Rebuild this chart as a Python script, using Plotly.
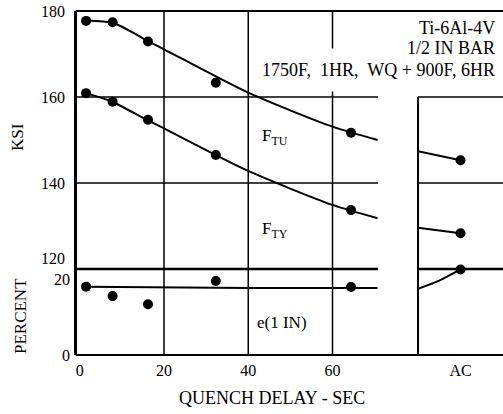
import plotly.graph_objects as go

# test points, quench delay in seconds
delay = [1.5, 7.8, 16.2, 32.3, 64.4]
ftu = [177.7, 177.4, 172.9, 163.3, 151.7]
fty = [160.9, 158.9, 154.7, 146.5, 133.7]
elong = [15.9, 13.7, 11.8, 17.2, 15.8]

# faired curves
ftu_fit_x = [1.5, 8, 16.4, 20, 40, 60, 70.7]
ftu_fit = [177.8, 177.2, 172.9, 171.1, 161.0, 153.1, 150.0]
fty_fit_x = [1.5, 7.7, 15.9, 20, 40, 60, 70.7]
fty_fit = [160.9, 158.9, 154.7, 152.7, 142.8, 134.9, 131.8]
elong_fit_x = [1.5, 40, 70.7]
elong_fit = [15.9, 15.6, 15.6]

# air cooled panel
ac_pos = [1]
ac_label = ["AC"]
ac_ftu = [145.3]
ac_fty = [128.3]
ac_elong = [19.9]
ac_line_x = [0, 1]
ac_ftu_fit = [147.4, 145.3]
ac_fty_fit = [129.6, 128.3]
ac_elong_x = [0, 0.5, 1]
ac_elong_fit = [15.4, 17.3, 19.9]

FONT = "Liberation Serif"
BLACK = "black"

fig = go.Figure()


def curve(x, y, xa, ya):
    fig.add_trace(go.Scatter(x=x, y=y, xaxis=xa, yaxis=ya, mode="lines",
                             line=dict(color=BLACK, width=2, shape="spline", smoothing=0.7),
                             hoverinfo="skip", showlegend=False))


def dots(x, y, xa, ya):
    fig.add_trace(go.Scatter(x=x, y=y, xaxis=xa, yaxis=ya, mode="markers",
                             marker=dict(color=BLACK, size=10),
                             showlegend=False))


curve(ftu_fit_x, ftu_fit, "x", "y")
curve(fty_fit_x, fty_fit, "x", "y")
curve(elong_fit_x, elong_fit, "x", "y2")
dots(delay, ftu, "x", "y")
dots(delay, fty, "x", "y")
dots(delay, elong, "x", "y2")

curve(ac_line_x, ac_ftu_fit, "x2", "y3")
curve(ac_line_x, ac_fty_fit, "x2", "y3")
curve(ac_elong_x, ac_elong_fit, "x2", "y4")
dots(ac_pos, ac_ftu, "x2", "y3")
dots(ac_pos, ac_fty, "x2", "y3")
dots(ac_pos, ac_elong, "x2", "y4")

tick_font = dict(family=FONT, size=16, color=BLACK)

fig.update_layout(
    width=503, height=414,
    margin=dict(l=77, r=0, t=11, b=59),
    paper_bgcolor="white", plot_bgcolor="white",
    font=dict(family=FONT, size=16, color=BLACK),
    xaxis=dict(domain=[0, 0.7066], range=[-0.65, 70.8], tickvals=[0, 20, 40, 60],
               showgrid=False, zeroline=False, showline=False, ticks="",
               ticklabelstandoff=4, tickfont=tick_font, anchor="y"),
    xaxis2=dict(domain=[0.8005, 1], range=[0, 2], tickvals=ac_pos, ticktext=ac_label,
                showgrid=False, zeroline=False, showline=False, ticks="",
                ticklabelstandoff=4, tickfont=tick_font, anchor="y3"),
    # KSI scale
    yaxis=dict(range=[100, 180], tickvals=[120, 140, 160, 180],
               ticktext=["120<br> ", "140", "160", "180"],
               showgrid=False, zeroline=False, showline=True, linecolor=BLACK,
               linewidth=2.5, ticks="", ticklabelstandoff=6, tickfont=tick_font,
               anchor="x"),
    # PERCENT scale
    yaxis2=dict(range=[0, 80], tickvals=[0, 20], ticktext=["0", " <br>20"],
                overlaying="y", side="left", anchor="x", showgrid=False,
                zeroline=False, showline=False, ticks="", ticklabelstandoff=6,
                tickfont=tick_font),
    yaxis3=dict(range=[100, 180], anchor="x2", visible=False),
    yaxis4=dict(range=[0, 80], anchor="x2", overlaying="y3", visible=False),
)

# frame lines
for yv in [0, 1]:
    fig.add_shape(type="line", xref="paper", yref="paper", x0=-0.003, x1=1,
                  y0=yv, y1=yv, line=dict(color=BLACK, width=2))
fig.add_shape(type="line", xref="x2 domain", yref="y3", x0=0, x1=0, y0=100, y1=160,
              line=dict(color=BLACK, width=2))

# grid
for xv in [20, 40, 60]:
    fig.add_shape(type="line", xref="x", yref="y domain", x0=xv, x1=xv, y0=0, y1=1,
                  line=dict(color=BLACK, width=1.5))
for xr, yr in [("x domain", "y"), ("x2 domain", "y3")]:
    for yv in [140, 160]:
        fig.add_shape(type="line", xref=xr, yref=yr, x0=0, x1=1, y0=yv, y1=yv,
                      line=dict(color=BLACK, width=1.5))
    fig.add_shape(type="line", xref=xr, yref=yr, x0=0, x1=1, y0=120, y1=120,
                  line=dict(color=BLACK, width=2.5))

ann = dict(showarrow=False, font=dict(family=FONT, size=17, color=BLACK))
big = dict(showarrow=False, font=dict(family=FONT, size=18, color=BLACK))
# white box first so the lines above it stay readable
fig.add_annotation(text="1750F,  1HR,  WQ + 900F, 6HR", xref="paper", yref="paper",
                   x=0.986, y=0.8285, xanchor="right", yanchor="middle",
                   bgcolor="white", height=40, **big)
fig.add_annotation(text="Ti-6Al-4V", xref="paper", yref="paper", x=0.986, y=0.9506,
                   xanchor="right", yanchor="middle", **big)
fig.add_annotation(text="1/2 IN BAR", xref="paper", yref="paper", x=0.986, y=0.8924,
                   xanchor="right", yanchor="middle", **big)
fig.add_annotation(text="F<sub>TU</sub>", xref="x", yref="y", x=42.8, y=150.7,
                   xanchor="left", yanchor="middle", **ann)
fig.add_annotation(text="F<sub>TY</sub>", xref="x", yref="y", x=42.8, y=129.1,
                   xanchor="left", yanchor="middle", **ann)
fig.add_annotation(text="e(1 IN)", xref="x", yref="y2", x=41.7, y=7.6,
                   xanchor="left", yanchor="middle", **ann)
fig.add_annotation(text="QUENCH DELAY - SEC", xref="paper", yref="paper",
                   x=0.4577, y=-0.125, xanchor="center", yanchor="middle", **big)
fig.add_annotation(text="KSI", xref="paper", yref="paper", x=-0.1385, y=0.634,
                   xanchor="center", yanchor="middle", textangle=-90, **ann)
fig.add_annotation(text="PERCENT", xref="paper", yref="paper", x=-0.134, y=0.113,
                   xanchor="center", yanchor="middle", textangle=-90, **ann)

fig.write_html("out.html", config={"displayModeBar": False},
               post_script="document.body.style.margin='0';")
